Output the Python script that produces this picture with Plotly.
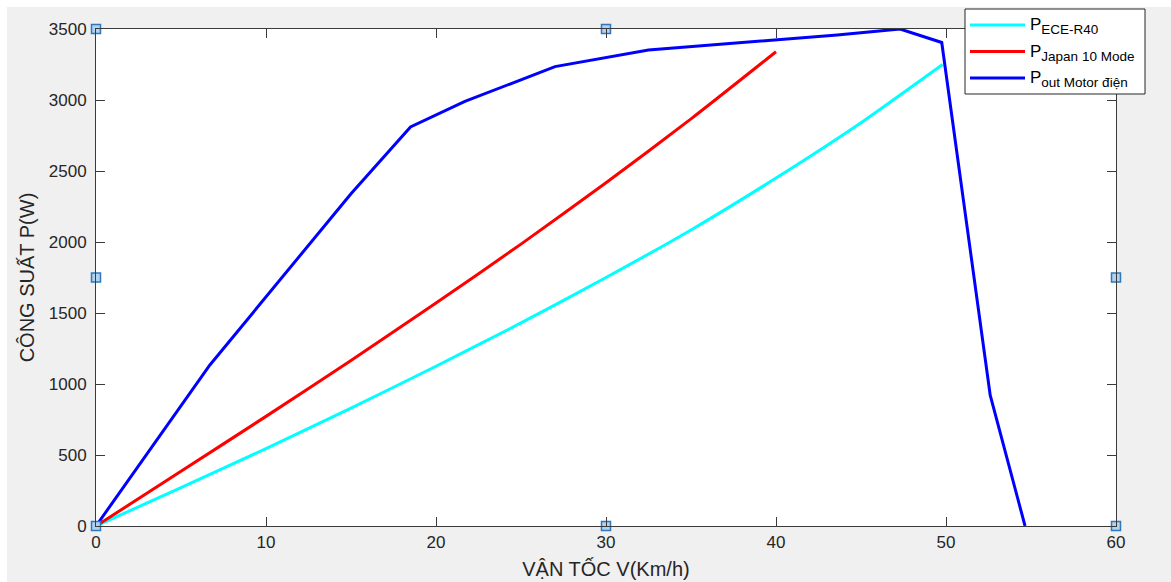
import plotly.graph_objects as go

# Vehicle speed (km/h) and power (W) for each curve
v_ece = [0, 5, 10, 15, 20, 25, 30, 35, 40, 45, 49.8]
p_ece = [0, 270, 545, 830, 1125, 1430, 1750, 2085, 2450, 2840, 3250]

v_japan = [0, 5, 10, 15, 20, 25, 30, 35, 40]
p_japan = [0, 385, 772, 1166, 1570, 1985, 2417, 2867, 3340]

v_motor = [0, 6.7, 15.0, 18.5, 21.7, 27.0, 32.5, 43.6, 47.3, 49.75, 52.6, 54.65]
p_motor = [0, 1134, 2340, 2810, 2990, 3235, 3352, 3458, 3500, 3405, 922, 0]

sub_style = "<span style='font-size:13.5px'>{}</span>"
legend_labels = [
    "P<sub>" + sub_style.format("ECE-R40") + "</sub>",
    "P<sub>" + sub_style.format("Japan 10 Mode") + "</sub>",
    "P<sub>" + sub_style.format("out Motor điện") + "</sub>",
]
colors = ["#00ffff", "#ff0000", "#0000ff"]
shapes_line = ["spline", "spline", "linear"]

x_range = [0, 60]
y_range = [0, 3500]

W, H = 1171, 582
ML, MR, MT, MB = 96, 55, 29, 56
PW, PH = W - ML - MR, H - MT - MB
FONT = "Liberation Sans, Arial, sans-serif"


def px_x(px):
    return (px - ML) / PW


def px_y(py):
    return (H - MB - py) / PH


fig = go.Figure()

for vx, py, c, ls in zip([v_ece, v_japan, v_motor], [p_ece, p_japan, p_motor],
                         colors, shapes_line):
    fig.add_trace(go.Scatter(x=vx, y=py, mode="lines",
                             line=dict(color=c, width=3, shape=ls, smoothing=0.6),
                             showlegend=False, hoverinfo="skip"))

# selection handles at the corners and edge midpoints of the axes box
hx_vals = [x_range[0], (x_range[0] + x_range[1]) / 2, x_range[1]]
hy_vals = [y_range[0], (y_range[0] + y_range[1]) / 2, y_range[1]]
handle_x, handle_y = [], []
for hx in hx_vals:
    for hy in hy_vals:
        if hx == hx_vals[1] and hy == hy_vals[1]:
            continue
        handle_x.append(hx)
        handle_y.append(hy)
fig.add_trace(go.Scatter(x=handle_x, y=handle_y, mode="markers", cliponaxis=False,
                         marker=dict(symbol="square", size=9, color="#b3d2ee",
                                     line=dict(color="#2f78bb", width=1.5)),
                         showlegend=False, hoverinfo="skip"))

axis_common = dict(
    showgrid=False, zeroline=False, showline=True, linecolor="#3a3a3a", linewidth=1,
    mirror="ticks", ticks="inside", ticklen=9, tickcolor="#3a3a3a", tickwidth=1,
    tickfont=dict(family=FONT, size=17, color="#262626"), automargin=False,
)

fig.update_layout(
    width=W, height=H,
    margin=dict(l=ML, r=MR, t=MT, b=MB, pad=0),
    paper_bgcolor="#f0f0f0",
    plot_bgcolor="#ffffff",
    xaxis=dict(range=x_range, dtick=10, tick0=0, ticklabelstandoff=1,
               title=dict(text="VẬN TỐC V(Km/h)", standoff=10,
                          font=dict(family=FONT, size=20, color="#262626")),
               **axis_common),
    yaxis=dict(range=y_range, dtick=500, tick0=0, ticklabelstandoff=5,
               title=dict(text="CÔNG SUẤT P(W)", standoff=8,
                          font=dict(family=FONT, size=20, color="#262626")),
               **axis_common),
    showlegend=False,
)

# thin white strips along the left and top edges of the window
shapes = [
    dict(type="rect", xref="paper", yref="paper", x0=px_x(0), x1=px_x(7),
         y0=px_y(H), y1=px_y(0), fillcolor="#ffffff", line=dict(width=0), layer="below"),
    dict(type="rect", xref="paper", yref="paper", x0=px_x(0), x1=px_x(W),
         y0=px_y(7), y1=px_y(0), fillcolor="#ffffff", line=dict(width=0), layer="below"),
]

# legend box, line samples and labels
box_l, box_r, box_t, box_b = 965, 1145, 9, 94
shapes.append(dict(type="rect", xref="paper", yref="paper",
                   x0=px_x(box_l), x1=px_x(box_r), y0=px_y(box_b), y1=px_y(box_t),
                   fillcolor="#ffffff", line=dict(color="#262626", width=1), layer="above"))
annotations = []
row_y = [25, 51.5, 78]
for label, c, ry in zip(legend_labels, colors, row_y):
    shapes.append(dict(type="line", xref="paper", yref="paper",
                       x0=px_x(970), x1=px_x(1025), y0=px_y(ry), y1=px_y(ry),
                       line=dict(color=c, width=3), layer="above"))
    annotations.append(dict(text=label, xref="paper", yref="paper",
                            x=px_x(1028), y=px_y(ry + 1), xanchor="left", yanchor="middle",
                            showarrow=False,
                            font=dict(family=FONT, size=17, color="#000000")))

fig.update_layout(shapes=shapes, annotations=annotations)

fig.write_html("out.html")
